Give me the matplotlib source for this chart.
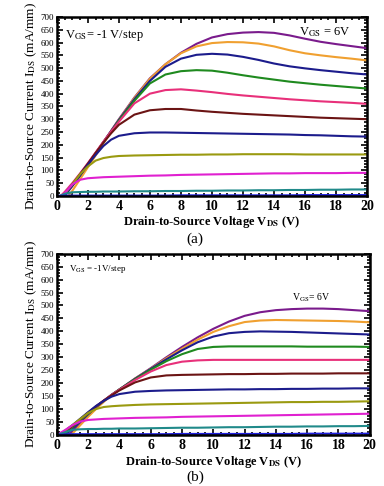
import numpy as np
import matplotlib
matplotlib.use("Agg")
import matplotlib.pyplot as plt
from matplotlib.ticker import MultipleLocator

plt.rcParams['font.family'] = ['Liberation Serif', 'DejaVu Serif']
plt.rcParams['mathtext.fontset'] = 'stix'

# common drain voltage grid (V)
vds = [0, 0.5, 1, 1.5, 2, 2.5, 3, 3.5, 4, 5, 6, 7, 8, 9, 10, 11, 12, 13, 14, 15, 16, 17, 18, 19, 20]

# (a) Ids (mA/mm), VGS = 6 ... -4 V
a_6 = [-40, 0, 38, 78, 120, 165, 210, 255, 300, 385, 460, 515, 560, 595, 620, 633, 639, 641, 638, 628, 615, 603, 594, 586, 578]
a_5 = [-60, -20, 20, 65, 112, 158, 205, 252, 298, 383, 458, 515, 558, 585, 598, 602, 601, 596, 585, 570, 558, 550, 543, 537, 530]
a_4 = [-35, 2, 40, 80, 122, 166, 210, 253, 297, 378, 450, 505, 537, 552, 556, 553, 544, 532, 518, 507, 499, 492, 486, 480, 475]
a_3 = [-30, 5, 42, 82, 124, 167, 210, 252, 294, 372, 440, 475, 488, 492, 490, 482, 472, 463, 455, 447, 441, 435, 430, 425, 420]
a_2 = [-15, 15, 50, 88, 128, 170, 212, 252, 290, 362, 400, 414, 417, 412, 406, 399, 393, 388, 383, 378, 374, 370, 367, 364, 360]
a_1 = [-25, 8, 45, 85, 126, 168, 208, 245, 278, 318, 335, 340, 340, 334, 329, 325, 321, 318, 315, 312, 309, 306, 304, 302, 300]
a_0 = [-30, 5, 42, 82, 122, 160, 195, 220, 235, 245, 248, 248, 247, 246, 245, 244, 243, 242, 241, 240, 238, 237, 235, 233, 232]
a_m1 = [-25, 8, 45, 85, 115, 138, 148, 153, 156, 158, 159, 160, 161, 161, 162, 162, 163, 163, 163, 163, 162, 162, 162, 162, 162]
a_m2 = [-20, 10, 45, 63, 69, 71, 73, 74, 75, 77, 79, 80, 82, 83, 84, 85, 86, 87, 88, 88, 89, 89, 89, 90, 90]
a_m3 = [-5, 8, 14, 15, 16, 16, 17, 17, 17, 18, 18, 19, 19, 20, 20, 21, 21, 22, 22, 23, 23, 24, 24, 25, 25]
a_m4 = [0, 1, 1, 1, 1, 1, 1, 1, 1, 1, 1, 1, 2, 2, 2, 2, 2, 2, 2, 2, 3, 3, 3, 3, 3]

# (b)
b_6 = [-40, -10, 15, 45, 75, 105, 130, 155, 175, 218, 258, 300, 340, 377, 410, 438, 460, 474, 482, 486, 488, 488, 486, 482, 478]
b_5 = [-60, -25, 5, 38, 70, 100, 128, 153, 175, 218, 256, 296, 333, 368, 398, 420, 436, 442, 444, 443, 442, 441, 440, 438, 435]
b_4 = [-30, 0, 25, 52, 80, 107, 132, 155, 176, 217, 255, 292, 327, 358, 380, 393, 398, 400, 399, 398, 396, 394, 392, 390, 388]
b_3 = [-20, 5, 30, 56, 82, 108, 132, 155, 176, 215, 252, 285, 312, 332, 340, 342, 342, 342, 342, 342, 341, 341, 341, 341, 340]
b_2 = [-10, 10, 34, 60, 85, 110, 133, 155, 175, 212, 245, 270, 283, 288, 290, 290, 290, 290, 290, 290, 290, 290, 290, 290, 290]
b_1 = [-10, 10, 34, 60, 86, 110, 133, 153, 172, 203, 222, 230, 232, 233, 234, 235, 235, 236, 236, 237, 237, 237, 238, 238, 238]
b_0 = [-5, 15, 38, 63, 88, 112, 132, 148, 158, 167, 170, 172, 173, 174, 175, 176, 176, 177, 177, 178, 178, 179, 179, 180, 180]
b_m1 = [-5, 15, 38, 62, 85, 100, 108, 111, 113, 116, 118, 119, 120, 121, 122, 123, 124, 125, 126, 127, 127, 128, 128, 129, 130]
b_m2 = [0, 18, 38, 52, 58, 60, 62, 63, 64, 66, 67, 68, 70, 71, 72, 73, 74, 75, 76, 77, 78, 79, 80, 81, 82]
b_m3 = [0, 10, 20, 22, 23, 23, 24, 24, 25, 25, 26, 27, 28, 28, 29, 30, 30, 31, 32, 32, 33, 33, 34, 34, 35]
b_m4 = [0, 2, 3, 3, 3, 3, 3, 3, 3, 3, 3, 3, 4, 4, 4, 4, 4, 4, 4, 4, 5, 5, 5, 5, 5]

colores = ['#7a1b8c', '#f0a030', '#1c1c8c', '#1f8a1f', '#e8307a', '#6b1414',
           '#1c1c8c', '#9a9a10', '#e020d0', '#208a8a', '#2020e0']

curvas_a = [a_6, a_5, a_4, a_3, a_2, a_1, a_0, a_m1, a_m2, a_m3, a_m4]
curvas_b = [b_6, b_5, b_4, b_3, b_2, b_1, b_0, b_m1, b_m2, b_m3, b_m4]


def dibujar(ax, curvas):
    for y, c in zip(curvas, colores):
        ax.plot(vds, y, color=c, lw=1.5)
    ax.set_xlim(0, 20)
    ax.set_ylim(0, 700)
    ax.xaxis.set_major_locator(MultipleLocator(2))
    ax.xaxis.set_minor_locator(MultipleLocator(0.5))
    ax.yaxis.set_major_locator(MultipleLocator(50))
    ax.yaxis.set_minor_locator(MultipleLocator(12.5))
    ax.tick_params(which='both', direction='in', top=True, right=True, width=1.2)
    ax.tick_params(which='major', length=4)
    ax.tick_params(which='minor', length=2)
    ax.tick_params(axis='x', labelsize=10, pad=3)
    ax.tick_params(axis='y', labelsize=6.5, pad=2)
    for lab in ax.get_xticklabels():
        lab.set_fontweight('bold')
    for s in ax.spines.values():
        s.set_linewidth(1.8)
    ax.set_xlabel(r'Drain-to-Source Voltage V$_{\mathbf{DS}}$ (V)', fontsize=9,
                  fontweight='bold', labelpad=1)
    ax.set_ylabel(r'Drain-to-Source Current I$_{\mathrm{DS}}$ (mA/mm)', fontsize=9.5,
                  labelpad=1)


fig = plt.figure(figsize=(3.84, 4.86), dpi=100)
ax1 = fig.add_axes([0.148, 0.597, 0.808, 0.368])
ax2 = fig.add_axes([0.148, 0.105, 0.815, 0.373])

dibujar(ax1, curvas_a)
dibujar(ax2, curvas_b)

ax1.text(0.5, 628, r'V$_{\mathrm{GS}}$= -1 V/step', fontsize=9, va='center')
ax1.text(15.6, 642, r'V$_{\mathrm{GS}}$ = 6V', fontsize=9, va='center')
ax2.text(0.8, 640, r'V$_{\mathrm{GS}}$ = -1V/step', fontsize=6.5, va='center')
ax2.text(15.0, 528, r'V$_{\mathrm{GS}}$= 6V', fontsize=7, va='center')

fig.text(0.508, 0.508, '(a)', fontsize=11, ha='center', va='center')
fig.text(0.508, 0.018, '(b)', fontsize=11, ha='center', va='center')

fig.savefig('out.png', dpi=100)
